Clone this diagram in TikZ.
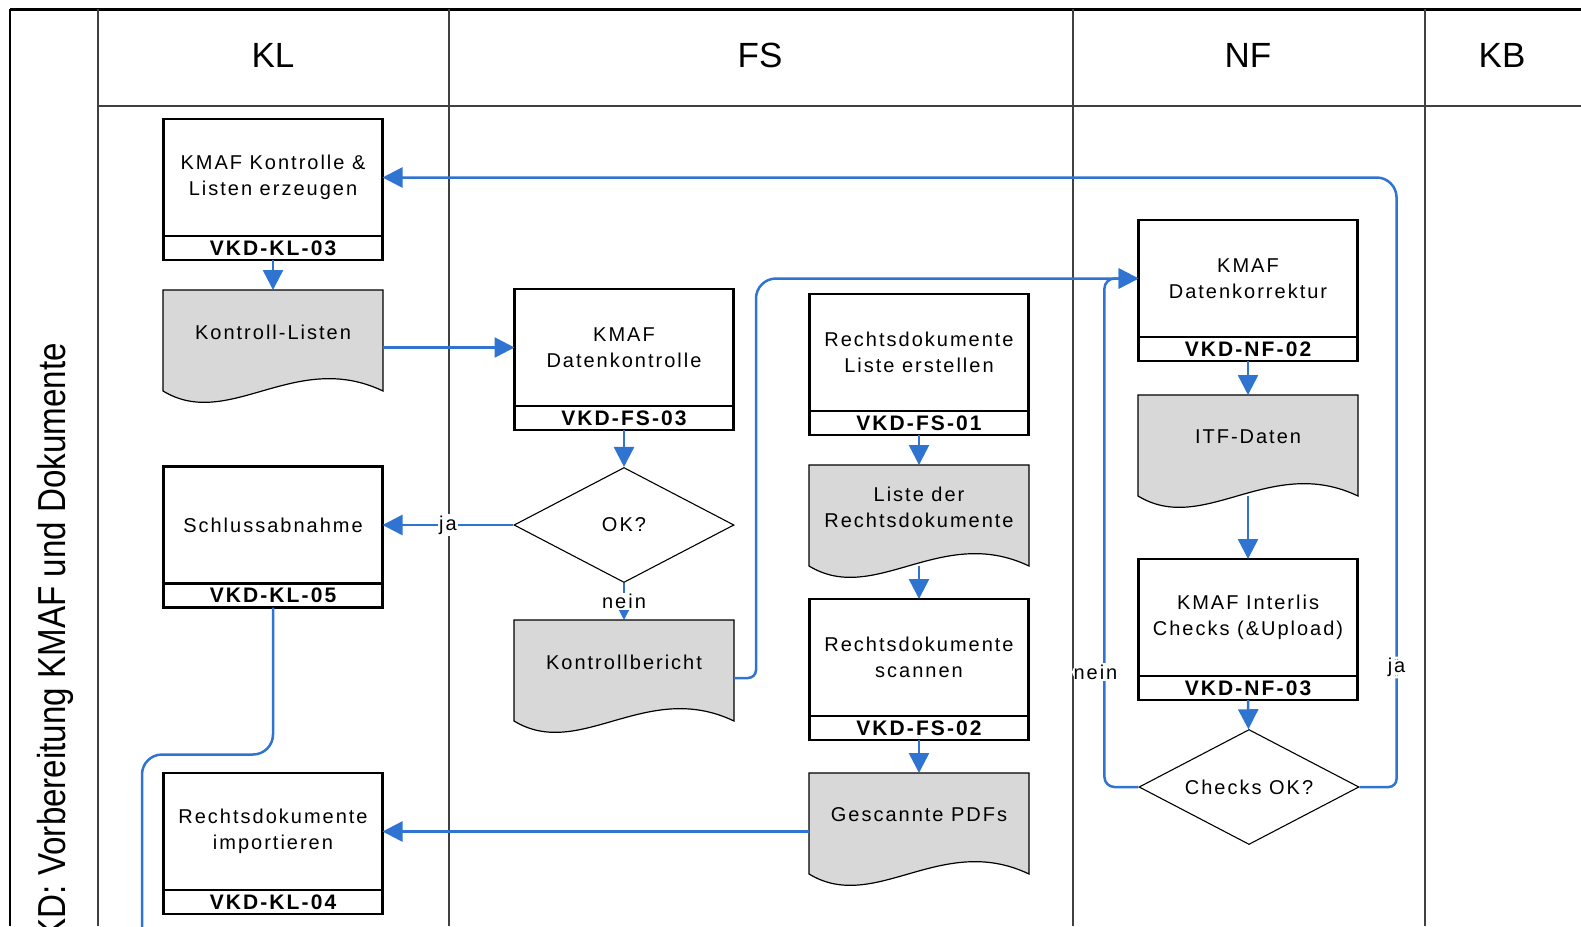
\documentclass[tikz,border=0pt]{standalone}
\usepackage{fontspec}
\setmainfont{Liberation Sans}
\newfontfamily\boxfont[LetterSpace=10]{Liberation Sans}
\newfontfamily\titlefont[FakeStretch=0.85]{Liberation Sans}
\usetikzlibrary{positioning,calc,shapes.geometric,arrows.meta,backgrounds}
\definecolor{flowblue}{RGB}{48,116,210}
\definecolor{docgray}{RGB}{216,216,216}
\definecolor{lanegray}{RGB}{64,64,64}
\tikzset{
  proc/.style={rectangle, draw=black, line width=2.6pt, minimum width=219pt, minimum height=117pt, text centered, align=center, inner sep=0pt, outer sep=0pt, font=\boxfont\fontsize{20}{26}\selectfont},
  pid/.style={rectangle, draw=black, line width=2.6pt, minimum width=219pt, minimum height=24pt, inner sep=0pt, outer sep=0pt, font=\boxfont\bfseries\fontsize{21}{21}\selectfont},
  docu/.style={rectangle, minimum width=220pt, minimum height=84pt, inner sep=0pt, outer sep=0pt, align=center, font=\boxfont\fontsize{20}{26}\selectfont},
  dec/.style={diamond, draw=black, line width=1.1pt, minimum width=220pt, minimum height=115pt, aspect=1.9, inner sep=0pt, font=\boxfont\fontsize{20}{26}\selectfont},
  flow/.style={draw=flowblue, line width=2.5pt, -{Triangle[length=20pt,width=20pt]}},
  lbl/.style={fill=white, inner sep=1.5pt, font=\boxfont\fontsize{20}{20}\selectfont},
  lane/.style={draw=lanegray, line width=1.5pt},
  head/.style={font=\fontsize{35}{35}\selectfont},
  node distance=30pt
}

\begin{document}
\begin{tikzpicture}[x=1pt, y=-1pt]
\path[use as bounding box] (0,0) rectangle (1581,926);
\clip (0,0) rectangle (1581,926);
% lanes
\draw[line width=3pt] (10,9) -- (1581,9);
\draw[line width=2pt] (10,9) -- (10,926);
\draw[lane] (98,106) -- (1581,106);
\foreach \x in {98,449,1073,1425}
  \draw[lane] (\x,9) -- (\x,926);
\node[head] (hkl) at (273,55) {KL};
\node[head] (hfs) at (760,55) {FS};
\node[head] (hnf) at (1248,55) {NF};
\node[head] (hkb) at (1502,55) {KB};
\node[rotate=90, anchor=base east, inner sep=0pt, font=\titlefont\fontsize{39}{39}\selectfont] (title) at (65,343) {KD: Vorbereitung KMAF und Dokumente};

% KL
\node[proc] (kl3) at (273,177.5) {KMAF Kontrolle \&\\Listen erzeugen};
\node[pid, below=0pt of kl3] (kl3id) {VKD-KL-03};
\node[docu, below=of kl3id] (kliste) {Kontroll-Listen};
\node[proc] (kl5) at (273,525) {Schlussabnahme};
\node[pid, below=0pt of kl5] (kl5id) {VKD-KL-05};
\node[proc] (kl4) at (273,831.5) {Rechtsdokumente\\importieren};
\node[pid, below=0pt of kl4] (kl4id) {VKD-KL-04};

% FS
\node[proc] (fs3) at (624,347.5) {KMAF\\Datenkontrolle};
\node[pid, below=0pt of fs3] (fs3id) {VKD-FS-03};
\node[dec] (ok) at (624,525) {OK?};
\node[docu] (kbericht) at (624,662) {Kontrollbericht};
\node[proc] (fs1) at (919,352.5) {Rechtsdokumente\\Liste erstellen};
\node[pid, below=0pt of fs1] (fs1id) {VKD-FS-01};
\node[docu, below=of fs1id] (liste) {Liste der\\Rechtsdokumente};
\node[proc, below=50pt of liste] (fs2) {Rechtsdokumente\\scannen};
\node[pid, below=0pt of fs2] (fs2id) {VKD-FS-02};
\node[docu, below=33pt of fs2id] (pdfs) {Gescannte PDFs};

% NF
\node[proc] (nf2) at (1248,278.5) {KMAF\\Datenkorrektur};
\node[pid, below=0pt of nf2] (nf2id) {VKD-NF-02};
\node[docu, below=34pt of nf2id] (itf) {ITF-Daten};
\node[proc, below=80pt of itf] (nf3) {KMAF Interlis\\Checks (\&Upload)};
\node[pid, below=0pt of nf3] (nf3id) {VKD-NF-03};
\node[dec] (chk) at (1249,787) {Checks OK?};

% document shapes
\begin{scope}[on background layer]
\foreach \d in {kliste,kbericht,liste,pdfs,itf}
  \filldraw[fill=docgray, draw=black, line width=1.2pt]
    (\d.north west) -- (\d.north east) -- ($(\d.south east)+(0,17)$)
    .. controls ($(\d.south east)+(-88,-25)$) and ($(\d.south west)+(66,57)$) .. ($(\d.south west)+(0,17)$) -- cycle;
\end{scope}

% connectors
\draw[flow] (kl3id) -- (kliste);
\draw[flow] (kliste.east |- fs3.west) -- (fs3.west);
\draw[flow] (fs3id) -- (ok);
\draw[flow] (ok) -- node[lbl] {ja} (kl5);
\draw[flow] (ok) -- node[lbl] {nein} (kbericht);
\draw[flow, rounded corners=8] ($(kbericht.east)+(0,16)$) -- ++(22,0) [rounded corners=20] |- (nf2.west);
\draw[flow, rounded corners=10] (chk.west) -- ++(-34,0) |- node[lbl, pos=0.113, xshift=-9pt] {nein} (nf2.west);
\draw[flow, rounded corners=8] (chk.east) -- ++(37,0) [rounded corners=20] |- node[lbl, pos=0.098] {ja} (kl3.east);
\coordinate (kl5out) at (142,940);
\draw[flow, -, rounded corners=20] (kl5id.south) -- ++(0,147) -| (kl5out);
\draw[flow] (pdfs.west |- kl4.east) -- (kl4.east);
\draw[flow] (fs1id) -- (liste);
\draw[flow] ($(liste.south)+(0,17)$) -- (fs2);
\draw[flow] (fs2id) -- (pdfs);
\draw[flow] (nf2id) -- (itf);
\draw[flow] ($(itf.south)+(0,17)$) -- (nf3);
\draw[flow] (nf3id) -- (chk);
\end{tikzpicture}
\end{document}
